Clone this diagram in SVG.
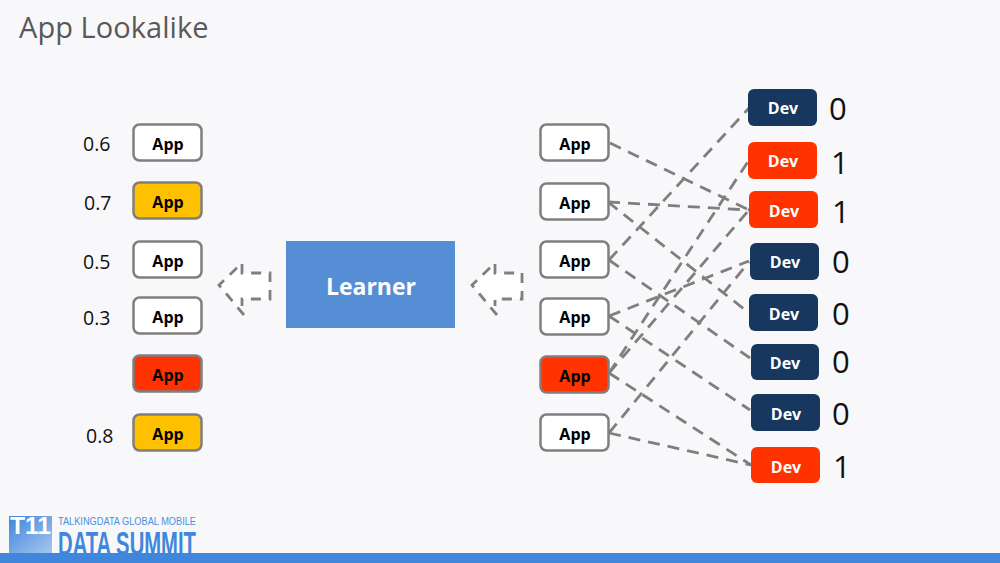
<svg xmlns="http://www.w3.org/2000/svg" width="1000" height="563" viewBox="0 0 1000 563">
<style>
text{font-family:"Open Sans","Liberation Sans",sans-serif}
.app{fill:#fff;stroke:#7f7f7f;stroke-width:2.5}
.y{fill:#ffc000}
.r{fill:#ff3300}
.at{font-size:16px;font-weight:700;fill:#000;text-anchor:middle}
.dt{font-size:16px;font-weight:700;fill:#fff;text-anchor:middle}
.navy{fill:#17375e}
.red{fill:#ff3300}
.score{font-size:19.500px;fill:#111}
.bit{font-size:31px;fill:#111}
#connectors line{stroke:#7f7f7f;stroke-width:2.800;stroke-dasharray:12 8;fill:none}
.block{fill:#fff;stroke:#7f7f7f;stroke-width:2.800;stroke-dasharray:10 8;stroke-linejoin:miter}
</style>
<defs>
<linearGradient id="logo" x1="0" y1="0" x2="1" y2="1"><stop offset="0" stop-color="#3f86dc"/><stop offset="1" stop-color="#a6c6ee"/></linearGradient>
</defs>
<rect width="1000" height="563" fill="#f8f8fb"/>
<text x="19" y="38" font-size="29" fill="#595959" style="letter-spacing:.05px">App Lookalike</text>

<g id="connectors">
<line x1="610" y1="143" x2="749" y2="210"/>
<line x1="608" y1="202" x2="749" y2="210"/>
<line x1="608" y1="202" x2="749" y2="313"/>
<line x1="609" y1="260" x2="749" y2="108"/>
<line x1="609" y1="260" x2="750" y2="358"/>
<line x1="609" y1="316" x2="749" y2="261"/>
<line x1="609" y1="316" x2="750" y2="410"/>
<line x1="609" y1="373" x2="749" y2="160"/>
<line x1="609" y1="373" x2="749" y2="210"/>
<line x1="609" y1="373" x2="751" y2="465"/>
<line x1="609" y1="433" x2="749" y2="262"/>
<line x1="609" y1="433" x2="751" y2="465"/>
</g>

<g id="score-app-1"><text class="score" x="83" y="151">0.6</text><rect class="app" x="133.500" y="124.500" width="68" height="36" rx="6"/><text class="at" x="168" y="150">App</text></g>
<g id="score-app-2"><text class="score" x="84" y="210">0.7</text><rect class="app y" x="133.500" y="182.500" width="68" height="36" rx="6"/><text class="at" x="168" y="208">App</text></g>
<g id="score-app-3"><text class="score" x="83" y="269">0.5</text><rect class="app" x="133.500" y="241.500" width="68" height="36" rx="6"/><text class="at" x="168" y="267">App</text></g>
<g id="score-app-4"><text class="score" x="83" y="325">0.3</text><rect class="app" x="133.500" y="297.500" width="68" height="36" rx="6"/><text class="at" x="168" y="323">App</text></g>
<g id="score-app-5"><rect class="app r" x="133.500" y="355.500" width="68" height="36" rx="6"/><text class="at" x="168" y="381">App</text></g>
<g id="score-app-6"><text class="score" x="86" y="443">0.8</text><rect class="app y" x="133.500" y="414.500" width="68" height="36" rx="6"/><text class="at" x="168" y="440">App</text></g>

<g id="arrow-left"><path class="block" d="M244 315L219 285L242 263V273H270V299H242V306"/></g>
<g id="learner"><rect x="286" y="241" width="169" height="87" fill="#558ed5"/><text x="371" y="295" font-size="23" font-weight="700" fill="#fff" text-anchor="middle">Learner</text></g>
<g id="arrow-right"><path class="block" d="M497 315L472 285L495 263V273H522V299H495V306"/></g>

<g id="app-1"><rect class="app" x="540.500" y="124.500" width="68" height="36" rx="6"/><text class="at" x="575" y="150">App</text></g>
<g id="app-2"><rect class="app" x="540.500" y="183.500" width="68" height="36" rx="6"/><text class="at" x="575" y="209">App</text></g>
<g id="app-3"><rect class="app" x="540.500" y="241.500" width="68" height="36" rx="6"/><text class="at" x="575" y="267">App</text></g>
<g id="app-4"><rect class="app" x="540.500" y="298.500" width="68" height="36" rx="6"/><text class="at" x="575" y="323">App</text></g>
<g id="app-5"><rect class="app r" x="540.500" y="356.500" width="68" height="36" rx="6"/><text class="at" x="575" y="382">App</text></g>
<g id="app-6"><rect class="app" x="540.500" y="414.500" width="68" height="36" rx="6"/><text class="at" x="575" y="440">App</text></g>

<g id="dev-1"><rect class="navy" x="748" y="89" width="69" height="37" rx="6"/><text class="dt" x="783" y="114">Dev</text><text class="bit" x="829" y="120">0</text></g>
<g id="dev-2"><rect class="red" x="748" y="142" width="69" height="37" rx="6"/><text class="dt" x="783" y="167">Dev</text><text class="bit" x="831" y="174">1</text></g>
<g id="dev-3"><rect class="red" x="749" y="191" width="69" height="37" rx="6"/><text class="dt" x="784" y="217">Dev</text><text class="bit" x="832" y="223">1</text></g>
<g id="dev-4"><rect class="navy" x="750" y="243" width="69" height="37" rx="6"/><text class="dt" x="785" y="268">Dev</text><text class="bit" x="832" y="273">0</text></g>
<g id="dev-5"><rect class="navy" x="749" y="294" width="69" height="37" rx="6"/><text class="dt" x="784" y="320">Dev</text><text class="bit" x="832" y="325">0</text></g>
<g id="dev-6"><rect class="navy" x="751" y="344" width="68" height="36" rx="6"/><text class="dt" x="785" y="369">Dev</text><text class="bit" x="832" y="373">0</text></g>
<g id="dev-7"><rect class="navy" x="751" y="394" width="69" height="37" rx="6"/><text class="dt" x="786" y="420">Dev</text><text class="bit" x="832" y="425">0</text></g>
<g id="dev-8"><rect class="red" x="751" y="447" width="69" height="36" rx="6"/><text class="dt" x="786" y="473">Dev</text><text class="bit" x="833" y="478">1</text></g>

<g id="footer">
<rect x="9" y="516" width="43" height="37" fill="url(#logo)"/>
<text x="10" y="534" font-size="24" font-weight="700" fill="#fff" textLength="41" lengthAdjust="spacingAndGlyphs" style="font-family:'Liberation Sans',sans-serif">T11</text>
<text x="58" y="525" font-size="10.500" fill="#4a8fe0" textLength="138" lengthAdjust="spacingAndGlyphs" style="font-family:'Liberation Sans',sans-serif">TALKINGDATA GLOBAL MOBILE</text>
<text x="58" y="555" font-size="33" font-weight="700" fill="#3f86dc" textLength="138" lengthAdjust="spacingAndGlyphs" style="font-family:'Liberation Sans',sans-serif">DATA SUMMIT</text>
<rect x="0" y="553" width="1000" height="10" fill="#3f86dc"/>
</g>
</svg>
